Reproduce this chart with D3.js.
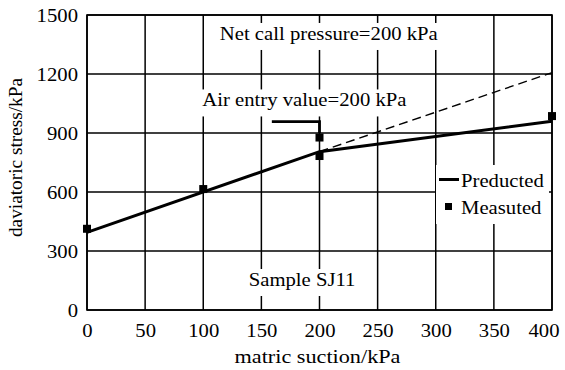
<!DOCTYPE html>
<html>
<head>
<meta charset="utf-8">
<script src="https://cdn.jsdelivr.net/npm/d3@7"></script>
<style>
  html, body { margin: 0; padding: 0; background: #fff; }
  svg { display: block; font-family: "Liberation Serif", "Times New Roman", Times, serif; }
  svg text { font-family: "Liberation Serif", "Times New Roman", Times, serif !important; fill: #000; }
</style>
</head>
<body>
<svg id="chart" width="565" height="370"></svg>
<script>
// ---- data ----
const xTicks = [0, 50, 100, 150, 200, 250, 300, 350, 400];
const yTicks = [0, 300, 600, 900, 1200, 1500];
const predictedSuction = [0, 200, 400];
const predictedStress = [395, 805, 960];
const extrapSuction = [200, 400];
const extrapStress = [805, 1207];
const measuredSuction = [0, 100, 200, 200, 400];
const measuredStress = [413, 615, 877, 783, 986];
const bracketSuction = [159, 200, 200];
const bracketStress = [958, 958, 900];
const xTitle = "matric suction/kPa";
const yTitle = "daviatoric stress/kPa";
const seriesNames = ["Preducted", "Measuted"];
const notes = ["Net call pressure=200 kPa", "Air entry value=200 kPa", "Sample SJ11"];

// ---- layout ----
const L = 87, R = 552, T = 15, B = 310;
const FONT = '"Liberation Serif", "Times New Roman", Times, serif';
const svg = d3.select("#chart");
const x = d3.scaleLinear().domain([0, 400]).range([L, R]);
const y = d3.scaleLinear().domain([0, 1500]).range([B, T]);
const FS = 19, SX = 1.09;

function txt(g, px, py, s, anchor, size, sx) {
  return g.append("text")
    .attr("transform", `translate(${px},${py}) scale(${sx || SX},1)`)
    .attr("text-anchor", anchor || "start")
    .attr("font-family", FONT)
    .style("font-family", FONT)
    .style("font-size", (size || FS) + "px")
    .text(s);
}

// gridlines
const grid = svg.append("g").attr("stroke", "#000").attr("stroke-width", 1.5);
grid.selectAll("line.v").data(xTicks).join("line")
  .attr("x1", d => x(d)).attr("x2", d => x(d)).attr("y1", T).attr("y2", B);
grid.selectAll("line.h").data(yTicks).join("line")
  .attr("y1", d => y(d)).attr("y2", d => y(d)).attr("x1", L).attr("x2", R);

// axes (labels only)
const xAxis = d3.axisBottom(x).tickValues(xTicks).tickSize(0).tickPadding(0);
const yAxis = d3.axisLeft(y).tickValues(yTicks).tickSize(0).tickPadding(0);
const gx = svg.append("g").attr("transform", `translate(0,${B})`).call(xAxis);
gx.select(".domain").remove();
gx.selectAll("text").remove();
gx.attr("font-family", FONT);
gx.selectAll(".tick").each(function(d, i) {
  const last = i === xTicks.length - 1;
  txt(d3.select(this), last ? 7 : 0, 26.5, String(d), last ? "end" : "middle");
});
const gy = svg.append("g").attr("transform", `translate(${L},0)`).call(yAxis);
gy.select(".domain").remove();
gy.selectAll("text").remove();
gy.attr("font-family", FONT);
gy.selectAll(".tick").each(function(d) {
  txt(d3.select(this), -9, 6.5, String(d), "end");
});

// annotation text boxes with white background
function note(px, py, s) {
  const g = svg.append("g");
  const t = txt(g, px, py, s, "middle");
  const bb = t.node().getBBox();
  const w = bb.width * SX;
  g.insert("rect", "text")
    .attr("x", px - w / 2 - 3).attr("y", py - 17)
    .attr("width", w + 6).attr("height", 27)
    .attr("fill", "#fff");
}
note(x(208), y(1373), notes[0]);
note(x(187), y(1035), notes[1]);
note(x(185), y(122), notes[2]);

// bracket for air entry value
svg.append("path")
  .attr("d", d3.line().x((d, i) => x(bracketSuction[i])).y((d, i) => y(bracketStress[i]))(bracketSuction))
  .attr("fill", "none").attr("stroke", "#000").attr("stroke-width", 2.8);

// dashed extrapolation
svg.append("path")
  .attr("d", d3.line().x((d, i) => x(extrapSuction[i])).y((d, i) => y(extrapStress[i]))(extrapSuction))
  .attr("fill", "none").attr("stroke", "#000").attr("stroke-width", 1.4)
  .attr("stroke-dasharray", "9,5");

// predicted line
svg.append("path")
  .attr("d", d3.line().x((d, i) => x(predictedSuction[i])).y((d, i) => y(predictedStress[i]))(predictedSuction))
  .attr("fill", "none").attr("stroke", "#000").attr("stroke-width", 3);

// frame
svg.append("rect").attr("x", L).attr("y", T).attr("width", R - L).attr("height", B - T)
  .attr("fill", "none").attr("stroke", "#000").attr("stroke-width", 1.6);

// legend
const lg = svg.append("g");
lg.append("rect").attr("x", 436).attr("y", 165).attr("width", 113).attr("height", 59).attr("fill", "#fff");
lg.append("line").attr("x1", 439).attr("x2", 459).attr("y1", 179.5).attr("y2", 179.5)
  .attr("stroke", "#000").attr("stroke-width", 3);
txt(lg, 461, 187, seriesNames[0], "start");
lg.append("rect").attr("x", 445).attr("y", 203).attr("width", 7).attr("height", 7).attr("fill", "#000");
txt(lg, 461, 213.5, seriesNames[1], "start");

// measured markers
const ms = 8;
svg.append("g").selectAll("rect").data(measuredSuction).join("rect")
  .attr("x", (d, i) => x(d) - ms / 2)
  .attr("y", (d, i) => y(measuredStress[i]) - ms / 2)
  .attr("width", ms).attr("height", ms).attr("fill", "#000");

// axis titles
txt(svg, (L + R) / 2 - 2, 363, xTitle, "middle", 19.5, 1.14);
svg.append("text")
  .attr("transform", `translate(22,157.5) rotate(-90)`)
  .attr("text-anchor", "middle")
  .attr("font-family", FONT)
  .style("font-family", FONT)
  .style("font-size", "19.3px")
  .text(yTitle);
</script>
</body>
</html>
